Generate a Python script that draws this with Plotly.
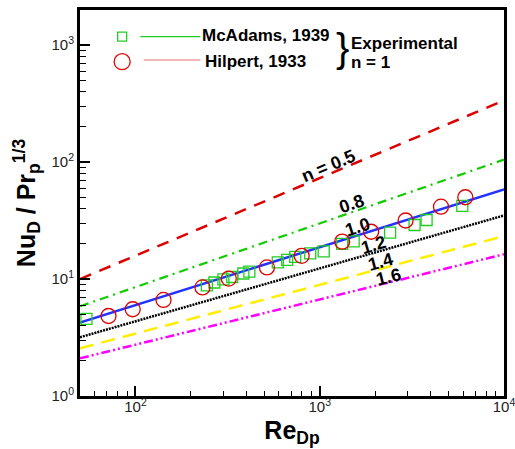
import plotly.graph_objects as go

# ---- data ----
line_re = [50, 10000]                      # end points of correlation lines
n_labels = ["n = 0.5", "0.8", "1.0", "1.2", "1.4", "1.6"]
n05 = [10.0, 337.0]
n08 = [5.85, 105.0]
n10 = [4.25, 58.5]
n12 = [3.18, 35.0]
n14 = [2.56, 23.3]
n16 = [2.10, 16.3]

mcadams_re = [54.2, 244, 268, 300, 335, 385, 415, 592, 666, 736, 888, 1051,
              1324, 1528, 2410, 3271, 3801, 5939]
mcadams_nu = [4.56, 8.82, 9.35, 9.92, 10.42, 11.16, 11.6, 13.87, 14.57, 15.45,
              16.56, 17.22, 19.96, 20.97, 25.0, 29.0, 32.0, 42.2]
hilpert_re = [71.4, 96.6, 142, 231, 321, 517, 798, 1324, 1901, 2924, 4550, 6167]
hilpert_nu = [4.83, 5.52, 6.63, 8.48, 10.1, 12.57, 15.8, 20.9, 25.4, 31.7, 41.6, 50.1]

x_tickvals = [100, 1000, 10000]
x_ticktext = ["10<sup>2</sup>", "10<sup>3</sup>", "10<sup>4</sup>"]
y_tickvals = [1, 10, 100, 1000]
y_ticktext = ["10<sup>0</sup>", "10<sup>1</sup>", "10<sup>2</sup>", "10<sup>3</sup>"]

FONT = "Liberation Sans, Arial, sans-serif"

fig = go.Figure()

styles = [
    (n05, "#dd0000", "12px,9px", 2.5),
    (n08, "#11cc00", "9px,5px,2px,5px", 2.2),
    (n10, "#2233ff", "solid", 2.5),
    (n12, "#000000", "2px,1px", 2.5),
    (n14, "#ffee00", "14px,8px", 2.5),
    (n16, "#ff00ff", "9px,3px,2px,3px,2px,3px", 2.5),
]
for vals, col, dash, w in styles:
    fig.add_trace(go.Scatter(x=line_re, y=vals, mode="lines",
                             line=dict(color=col, dash=dash, width=w),
                             showlegend=False, hoverinfo="skip"))

fig.add_trace(go.Scatter(x=mcadams_re, y=mcadams_nu, mode="markers",
                         marker=dict(symbol="square-open", size=11, color="#22cc22",
                                     line=dict(width=1.3, color="#22cc22")),
                         showlegend=False))
fig.add_trace(go.Scatter(x=hilpert_re, y=hilpert_nu, mode="markers",
                         marker=dict(symbol="circle-open", size=15, color="#e00000",
                                     line=dict(width=1.3, color="#e00000")),
                         showlegend=False))

# ---- line labels ----
def px2paper(px, py):
    return (px - 79.5) / 424.5, (396 - py) / 386.0

label_pos = [(328, 165.5, -23), (351, 203.5, -19), (357.5, 227, -17.5),
             (373.3, 245, -16), (380, 262, -15), (388.3, 277, -14)]
for txt, (px, py, ang) in zip(n_labels, label_pos):
    xp, yp = px2paper(px, py)
    fig.add_annotation(x=xp, y=yp, xref="paper", yref="paper", text="<b>%s</b>" % txt,
                       showarrow=False, textangle=ang, xanchor="center", yanchor="middle",
                       font=dict(family=FONT, size=18, color="black"))

# ---- hand-made legend ----
def add_text(px, py, txt, size=17, xanchor="left"):
    xp, yp = px2paper(px, py)
    fig.add_annotation(x=xp, y=yp, xref="paper", yref="paper", text=txt,
                       showarrow=False, xanchor=xanchor, yanchor="middle",
                       font=dict(family=FONT, size=size, color="black"))

sx, sy = px2paper(121.7, 36.7)
fig.add_shape(type="rect", xref="paper", yref="paper", xsizemode="pixel", ysizemode="pixel",
              xanchor=sx, yanchor=sy, x0=-4.5, x1=4.5, y0=-4.5, y1=4.5,
              line=dict(color="#22cc22", width=1.3))
cx, cy = px2paper(121.7, 61.7)
fig.add_shape(type="circle", xref="paper", yref="paper", xsizemode="pixel", ysizemode="pixel",
              xanchor=cx, yanchor=cy, x0=-8, x1=8, y0=-8, y1=8,
              line=dict(color="#e00000", width=1.3))
for (x0, x1, y, col) in [(140, 200, 36.7, "#22cc22"), (143.3, 200, 60, "#e87070")]:
    a0, b = px2paper(x0, y)
    a1, _ = px2paper(x1, y)
    fig.add_shape(type="line", xref="paper", yref="paper", x0=a0, x1=a1, y0=b, y1=b,
                  line=dict(color=col, width=1.2))

add_text(200, 35, "<b>McAdams, 1939</b>")
add_text(202.5, 61.5, "<b>Hilpert, 1933</b>")
add_text(334, 47.5, "}", size=40)
add_text(349, 43.5, "<b>Experimental</b>")
add_text(349, 62, "<b>n = 1</b>")

axis_common = dict(type="log", showgrid=False, zeroline=False, showline=True,
                   linecolor="black", linewidth=3, mirror=True, automargin=False,
                   ticks="inside", ticklen=10, tickwidth=2, tickcolor="black",
                   tickmode="array", ticklabeloverflow="allow",
                   tickfont=dict(family=FONT, size=15, color="#222"))

x_minor = [m * 10 ** e for e in range(1, 4) for m in range(2, 10)]
y_minor = [m * 10 ** e for e in range(0, 4) for m in range(2, 10)]

fig.update_xaxes(**axis_common, range=[1.69897, 4], tickvals=x_tickvals, ticktext=x_ticktext,
                 ticklabelstandoff=-5,
                 minor=dict(tickmode="array", tickvals=x_minor, ticks="inside", ticklen=5,
                            tickwidth=1.2, tickcolor="black"),
                 title=dict(text="<b>Re<sub>Dp</sub></b>", standoff=8,
                            font=dict(family=FONT, size=25, color="black")))
fig.update_yaxes(**axis_common, range=[0, 3.30103], tickvals=y_tickvals, ticktext=y_ticktext,
                 minor=dict(tickmode="array", tickvals=y_minor, ticks="inside", ticklen=6,
                            tickwidth=1.2, tickcolor="black"),
                 title=dict(text="<b>Nu<sub>D</sub> / Pr<sub>p</sub><sup>1/3</sup></b>", standoff=9,
                            font=dict(family=FONT, size=25, color="black")))

fig.update_layout(width=515, height=449, margin=dict(l=80, r=11, t=10, b=53),
                  paper_bgcolor="white", plot_bgcolor="white", showlegend=False)

fig.write_html("out.html")
